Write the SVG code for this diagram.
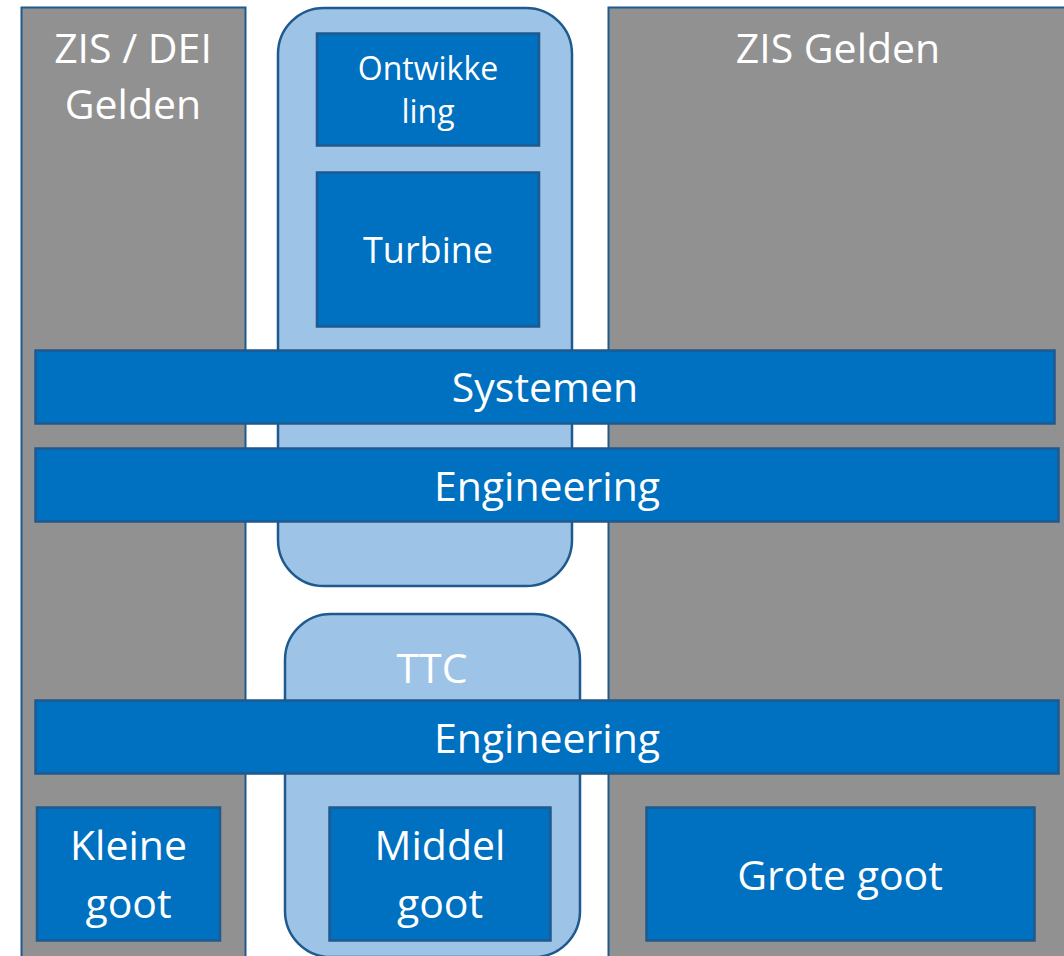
<svg xmlns="http://www.w3.org/2000/svg" width="1064" height="956" viewBox="0 0 1064 956">
<style>
.col{fill:#919191;stroke:#1F5A8E;stroke-width:2}
.pill{fill:#9DC3E6;stroke:#1F5A8E;stroke-width:2.5}
.box{fill:#0070C0;stroke:#1F5A8E;stroke-width:2.5}
text{font-family:"Open Sans","Noto Sans",sans-serif;fill:#FFFFFF;text-anchor:middle}
.t41{font-size:41px}
.t36{font-size:36px}
.t32{font-size:32px}
</style>
<rect width="1064" height="956" fill="#FFFFFF"/>
<g id="col-left"><rect class="col" x="21.5" y="7.5" width="224" height="960"/>
<text class="t41" x="133" y="63">ZIS / DEI</text><text class="t41" x="133" y="119">Gelden</text></g>
<g id="col-right"><rect class="col" x="608.5" y="7.5" width="470" height="960"/>
<text class="t41" x="838" y="63">ZIS Gelden</text></g>
<g id="group-top"><rect class="pill" x="278" y="8" width="294" height="578" rx="46" ry="46"/></g>
<g id="group-ttc"><rect class="pill" x="285" y="614" width="295" height="343" rx="46" ry="46"/>
<text class="t41" x="432" y="683">TTC</text></g>
<g id="connectors"></g>
<g id="ontwikkeling"><rect class="box" x="317" y="33.5" width="222" height="112"/>
<text class="t32" x="428" y="80">Ontwikke</text><text class="t32" x="428" y="123">ling</text></g>
<g id="turbine"><rect class="box" x="317" y="172.5" width="222" height="154"/>
<text class="t36" x="428" y="263">Turbine</text></g>
<g id="systemen"><rect class="box" x="35.5" y="350.5" width="1019" height="73"/>
<text class="t41" x="545" y="402">Systemen</text></g>
<g id="engineering1"><rect class="box" x="35.5" y="448.5" width="1023" height="73"/>
<text class="t41" x="547" y="501">Engineering</text></g>
<g id="engineering2"><rect class="box" x="35.5" y="700.5" width="1023" height="73"/>
<text class="t41" x="547" y="753">Engineering</text></g>
<g id="kleine-goot"><rect class="box" x="37" y="807.5" width="183" height="133"/>
<text class="t41" x="128.5" y="860">Kleine</text><text class="t41" x="128.5" y="918">goot</text></g>
<g id="middel-goot"><rect class="box" x="329.5" y="807.5" width="221" height="133"/>
<text class="t41" x="440" y="860">Middel</text><text class="t41" x="440" y="918">goot</text></g>
<g id="grote-goot"><rect class="box" x="646.5" y="807.5" width="388" height="133"/>
<text class="t41" x="840" y="890">Grote goot</text></g>
</svg>
